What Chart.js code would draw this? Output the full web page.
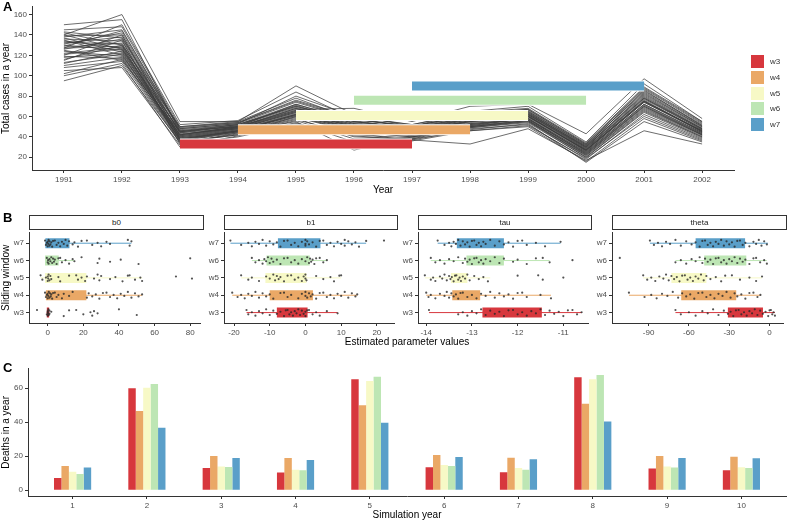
<!DOCTYPE html>
<html>
<head>
<meta charset="utf-8">
<script src="https://cdn.jsdelivr.net/npm/chart.js@4.4.1/dist/chart.umd.min.js"></script>
<style>
body { margin: 0; background: #fff; }
#wrap { position: relative; width: 788px; height: 521px; overflow: hidden; font-family: 'Liberation Sans', Arial, sans-serif; }
canvas { position: absolute; }
.tag { position: absolute; font-weight: bold; font-size: 13px; color: #000; }
.strip { position: absolute; box-sizing: border-box; border: 1px solid #333; background: #fff; font-size: 8px; text-align: center; line-height: 13px; color: #1a1a1a; }
.key { position: absolute; width: 13px; height: 13px; }
.keylab { position: absolute; font-size: 8px; color: #333; }
.txt { position: absolute; font-size: 10px; color: #000; white-space: nowrap; }
</style>
</head>
<body>
<div id="wrap">
  <canvas id="chartA" width="788" height="196" style="left:0px;top:0px"></canvas>
  <canvas id="chartB0" width="204" height="120" style="left:0px;top:226px"></canvas>
  <canvas id="chartB1" width="196" height="120" style="left:202px;top:226px"></canvas>
  <canvas id="chartB2" width="196" height="120" style="left:396px;top:226px"></canvas>
  <canvas id="chartB3" width="197" height="120" style="left:590px;top:226px"></canvas>
  <canvas id="chartC" width="788" height="159" style="left:0px;top:362px"></canvas>
  <div class="tag" style="left:3px;top:-1px">A</div>
  <div class="tag" style="left:3px;top:210px">B</div>
  <div class="tag" style="left:3px;top:360px">C</div>
  <div id="strips"></div>
  <div id="legend"></div>
  <div class="txt" style="left:407px;top:336px;transform:translateX(-50%)">Estimated parameter values</div>
</div>
<script>
// panel A: simulated yearly cases (one row per trajectory)
const YEARS = [1991, 1992, 1993, 1994, 1995, 1996, 1997, 1998, 1999, 2000, 2001, 2002]
const A_YTICKS = [20, 40, 60, 80, 100, 120, 140, 160]
const CASES = [
  [150, 155, 45, 50, 72, 55, 48, 58, 62, 30, 80, 48],
  [95, 110, 35, 42, 60, 45, 40, 50, 55, 20, 65, 40],
  [140, 160, 55, 55, 90, 62, 50, 65, 70, 35, 92, 55],
  [130, 125, 40, 48, 65, 50, 44, 55, 60, 27, 75, 45],
  [120, 140, 38, 46, 62, 48, 42, 52, 58, 25, 72, 44],
  [135, 120, 42, 50, 68, 52, 46, 57, 62, 28, 78, 47],
  [115, 135, 33, 44, 58, 40, 38, 50, 56, 22, 68, 42],
  [125, 115, 45, 52, 70, 55, 48, 60, 64, 30, 82, 50],
  [142, 130, 50, 54, 75, 58, 50, 62, 66, 32, 85, 52],
  [110, 118, 36, 45, 55, 27, 40, 48, 52, 18, 62, 38],
  [105, 108, 32, 40, 52, 44, 36, 46, 50, 16, 58, 36],
  [138, 145, 48, 53, 80, 60, 52, 63, 67, 33, 88, 54],
  [128, 132, 41, 49, 66, 51, 45, 54, 59, 26, 74, 46],
  [122, 128, 39, 47, 63, 49, 43, 53, 57, 24, 71, 43],
  [132, 138, 44, 51, 69, 53, 47, 58, 63, 29, 79, 48],
  [118, 122, 37, 46, 61, 47, 41, 51, 58, 23, 70, 42],
  [140, 126, 46, 50, 67, 68, 55, 70, 72, 43, 97, 58],
  [100, 112, 30, 41, 54, 35, 37, 47, 53, 15, 55, 35],
  [127, 150, 52, 56, 84, 58, 49, 61, 65, 31, 86, 51],
  [136, 134, 43, 48, 64, 50, 44, 56, 60, 27, 76, 45],
  [112, 124, 38, 45, 60, 46, 42, 50, 56, 21, 66, 40],
  [131, 142, 47, 52, 72, 56, 48, 59, 64, 30, 83, 50],
  [124, 119, 40, 47, 62, 48, 43, 53, 58, 25, 72, 44],
  [145, 148, 50, 55, 78, 57, 50, 62, 67, 33, 87, 53],
  [116, 130, 36, 44, 57, 42, 39, 49, 54, 20, 64, 39],
  [134, 127, 42, 50, 66, 52, 46, 57, 61, 28, 77, 47],
  [126, 136, 44, 49, 68, 54, 47, 55, 60, 27, 75, 46],
  [108, 114, 34, 43, 56, 38, 38, 46, 51, 19, 60, 37],
  [139, 140, 46, 52, 70, 55, 49, 59, 63, 31, 81, 49],
  [121, 126, 39, 46, 62, 49, 44, 52, 57, 24, 70, 43],
  [133, 131, 45, 51, 71, 53, 46, 58, 62, 29, 78, 48],
  [113, 121, 37, 45, 59, 45, 40, 49, 55, 22, 67, 41],
  [129, 144, 48, 53, 74, 57, 51, 60, 65, 32, 84, 51],
  [137, 123, 41, 48, 64, 50, 45, 56, 61, 26, 74, 45],
  [119, 117, 38, 46, 61, 47, 42, 51, 56, 23, 69, 42],
  [143, 137, 49, 54, 76, 59, 52, 64, 68, 34, 89, 55],
  [102, 116, 35, 42, 53, 41, 37, 33, 48, 17, 46, 33],
  [127, 129, 42, 49, 65, 51, 45, 55, 60, 27, 75, 46]
]

// sliding windows
const WINDOWS = ['w3', 'w4', 'w5', 'w6', 'w7']
const WIN_COLORS = ['#d7373d', '#eaa866', '#f7f9c6', '#bde6b4', '#5a9fc9']
const WIN_START = [1993, 1994, 1995, 1996, 1997]
const WIN_END = [1997, 1998, 1999, 2000, 2001]
const WIN_LEVEL = [33, 47, 61, 76, 90]

// panel B: parameter estimates, rows w3..w7
const PARAMS = ['b0', 'b1', 'tau', 'theta']
const B_XTICKS = [[0, 20, 40, 60, 80], [-20, -10, 0, 10, 20], [-14, -13, -12, -11], [-90, -60, -30, 0]]
const B_YTICKS = [1, 2, 3, 4, 5]
const BOX_Q1 = [[-0.5, -1, -1.5, -1.5, -1.3], [-8, -10, -11.2, -10.9, -7.7], [-12.77, -13.43, -13.46, -13.12, -13.33], [-31, -65.7, -73, -48.6, -55]]
const BOX_Q3 = [[0.8, 21.7, 21.7, 6.2, 12.2], [0.6, 2.1, 0.3, 1.2, 4.2], [-11.47, -12.82, -13.1, -12.3, -12.3], [-4.9, -24.8, -47, -17.3, -18.2]]
const WHISK_LO = [[-0.6, -1.5, -4, -0.5, -1.5], [-16.5, -20.5, -18, -15, -21], [-13.94, -14, -14.03, -13.9, -13.75], [-70, -104.6, -94, -70, -89]]
const WHISK_HI = [[1, 53, 53, 15, 47], [9, 14.5, 10, 6, 17], [-10.6, -11.27, -12.6, -11.3, -11.06], [4, -6.8, -5.6, -2, -1.2]]

const PTS_B0 = [
  [-6, -0.5, 0, 0, 0, 0.2, 0.4, 0.6, 1, 1, 2, 9, 12, 16, 20, 24, 25, 26, 28, 40, 50],
  [-1.5, -1, -0.5, 0, 0, 0.3, 0.6, 1, 1.3, 1.7, 2, 2.5, 3, 4, 5, 6, 8, 9, 12, 14, 22, 23, 25, 27, 29, 31, 33, 35, 37, 39, 41, 43, 45, 47, 49, 51, 53],
  [-4, -3, -1, 0, 0, 0.3, 0.5, 1, 1.5, 2, 6, 7, 12, 16, 17, 19, 21, 22, 26, 28, 29, 30, 35, 38, 42, 45, 46, 49, 52, 53, 72, 81],
  [-0.5, 0, 0.2, 0.5, 1, 1.5, 2, 2.5, 3, 3.5, 4, 5, 6, 7, 8, 10, 12, 14, 15, 19, 28, 29, 35, 41, 51, 80],
  [-1.5, -1, -0.5, 0, 0, 0.3, 0.5, 1, 1, 1.5, 2, 2.5, 3, 4, 5, 6, 7, 8, 9, 10, 11, 12, 14, 15, 17, 19, 22, 25, 28, 30, 33, 35, 45, 46, 47]
]
const PTS_B1 = [
  [-16.5, -16, -15, -14, -13, -12, -11, -10, -9, -8, -7, -6, -5.5, -5, -4.5, -4, -3.5, -3, -2.5, -2, -1.5, -1, -0.5, 0, 0, 0.5, 1, 2, 3, 4, 6, 9],
  [-20.5, -19, -18, -17, -16, -15, -14, -13, -12, -11, -10, -9, -7, -6, -5, -4, -2, -1, 0, 0, 0.5, 1, 1.5, 2, 3, 4, 5, 6, 7, 8, 9, 10, 11, 12, 13, 14, 14.5],
  [-18, -16, -15, -13, -11, -10, -9, -8.5, -8, -7.5, -7, -6, -5, -4, -3, -2, -1, -0.5, 0, 0, 0.3, 3, 5, 7, 8, 9.5, 10],
  [-15, -14, -13, -12, -11.5, -11, -10.5, -10, -9.5, -9, -8, -7, -6, -5, -4, -3, -2, -1, 0, 0.5, 1, 1.3, 1.6, 2, 2.5, 3, 4, 5, 6],
  [-21, -18, -16, -15, -14, -13, -12, -11, -10, -9, -8, -7, -6, -5, -4, -3, -2, -1, 0, 0, 0, 0.5, 1, 2, 3, 4, 5, 6, 7, 8, 9, 10, 11, 11, 12, 13, 14, 15, 17, 22]
]
const PTS_TAU = [
  [-13.94, -13.3, -13.2, -13.1, -13, -12.9, -12.8, -12.7, -12.6, -12.5, -12.4, -12.3, -12.2, -12.1, -12, -11.9, -11.8, -11.7, -11.6, -11.5, -11.4, -11.3, -11.2, -11.1, -11, -10.9, -10.8, -10.7, -10.6],
  [-14, -13.95, -13.9, -13.8, -13.7, -13.6, -13.55, -13.5, -13.45, -13.4, -13.35, -13.3, -13.25, -13.2, -13.1, -13, -12.9, -12.8, -12.7, -12.6, -12.5, -12.4, -12.3, -12.2, -12.1, -12, -11.9, -11.8, -11.5, -11.27],
  [-14.03, -13.9, -13.85, -13.8, -13.7, -13.65, -13.6, -13.55, -13.5, -13.47, -13.44, -13.4, -13.37, -13.34, -13.3, -13.27, -13.24, -13.2, -13.15, -13.1, -13.05, -12.95, -12.85, -12.75, -12.65, -12, -11.55, -11.45, -11],
  [-13.9, -13.8, -13.7, -13.6, -13.5, -13.4, -13.3, -13.2, -13.15, -13.1, -13.05, -13, -12.95, -12.9, -12.85, -12.8, -12.75, -12.7, -12.6, -12.5, -12.4, -12.3, -12.1, -12, -11.8, -11.6, -11.45, -11.3, -10.8],
  [-13.75, -13.6, -13.5, -13.45, -13.4, -13.35, -13.3, -13.25, -13.2, -13.15, -13.1, -13.05, -13, -12.95, -12.9, -12.85, -12.8, -12.75, -12.7, -12.6, -12.5, -12.4, -12.3, -12.2, -12.1, -12, -11.9, -11.8, -11.6, -11.4, -11.06]
]
const PTS_THETA = [
  [-70, -66, -60, -55, -50, -46, -42, -38, -34, -31, -29, -27, -25, -23, -21, -19, -17, -15, -13, -11, -9, -7, -5, -3, -1, 0, 1, 2, 3, 4],
  [-104.6, -93, -88, -84, -80, -76, -72, -68, -65, -62, -59, -56, -53, -50, -47, -44, -41, -38, -35, -32, -29, -26, -24, -21, -18, -15, -12, -9, -6.8],
  [-94, -91, -88, -85, -82, -79, -77, -75, -73, -71, -69, -67, -65, -63, -61, -59, -57, -55, -53, -51, -49, -47, -44, -40, -36, -33, -28, -22, -15, -10, -5.6],
  [-111.4, -70, -66, -62, -58, -55, -52, -50, -48, -46, -44, -42, -40, -38, -36, -34, -32, -30, -28, -26, -24, -22, -20, -18, -15, -12, -10, -7, -4, -2],
  [-89, -86, -83, -80, -77, -74, -70, -66, -62, -58, -55, -52, -50, -48, -46, -44, -42, -40, -38, -36, -34, -32, -30, -28, -26, -24, -22, -20, -18, -15, -12, -10, -8, -6, -4, -2]
]
const POINTS = [PTS_B0, PTS_B1, PTS_TAU, PTS_THETA]
// fixed vertical jitter pattern for the points
const JITTER = [0.15, -0.1, 0.02, -0.18, 0.08, -0.04, 0.19, -0.14, 0.11, -0.07, 0.05, -0.2, 0.13]

// panel C: deaths per simulation year
const SIM_YEARS = [1, 2, 3, 4, 5, 6, 7, 8, 9, 10]
const C_YTICKS = [0, 20, 40, 60]
const DEATHS_W3 = [7.2, 60, 13, 10.4, 65.2, 13.5, 10.6, 66.5, 12.8, 11.8]
const DEATHS_W4 = [14.3, 46.6, 20.1, 19, 49.9, 20.7, 19.1, 50.8, 20.1, 19.7]
const DEATHS_W5 = [10.8, 60.3, 14, 12, 64.2, 14.9, 13, 65.2, 13.9, 13.5]
const DEATHS_W6 = [9.5, 62.4, 13.7, 11.8, 66.7, 14.3, 12, 67.8, 13.3, 13]
const DEATHS_W7 = [13.3, 36.7, 19, 17.8, 39.7, 19.5, 18.2, 40.4, 19, 18.8]
const DEATHS = [DEATHS_W3, DEATHS_W4, DEATHS_W5, DEATHS_W6, DEATHS_W7]

Chart.defaults.font.family = "'Liberation Sans', Arial, sans-serif"
Chart.defaults.animation = false
Chart.defaults.responsive = false
Chart.defaults.devicePixelRatio = 1
Chart.defaults.plugins.legend.display = false
Chart.defaults.plugins.tooltip.enabled = false

const tickFont = { size: 8 }
const tickColor = '#4d4d4d'

function axisStyle(tickValues) {
  return {
    grid: { drawOnChartArea: false, drawTicks: true, tickLength: 3, color: '#333', offset: false },
    border: { display: true, color: '#333', width: 1 },
    afterBuildTicks: function (s) { s.ticks = tickValues.map(function (v) { return { value: v } }) }
  }
}

// ---------- panel A ----------
var dsA = []
CASES.forEach(function (row) {
  dsA.push({
    data: row.map(function (v, i) { return { x: YEARS[i], y: v } }),
    borderColor: 'rgba(60,60,60,0.75)', borderWidth: 1, pointRadius: 0, showLine: true, order: 3
  })
})
WINDOWS.forEach(function (w, k) {
  var seg = [{ x: WIN_START[k], y: WIN_LEVEL[k] }, { x: WIN_END[k], y: WIN_LEVEL[k] }]
  dsA.push({ data: seg, borderColor: '#fff', borderWidth: 11, borderCapStyle: 'butt', pointRadius: 0, showLine: true, order: 2 })
  dsA.push({ data: seg, borderColor: WIN_COLORS[k], borderWidth: 9, borderCapStyle: 'butt', pointRadius: 0, showLine: true, order: 1 })
})

new Chart('chartA', {
  type: 'scatter',
  data: { datasets: dsA },
  options: {
    layout: { padding: { left: 0, top: 2, right: 54, bottom: 0 } },
    scales: {
      x: Object.assign(axisStyle(YEARS), {
        type: 'linear', min: 1990.45, max: 2002.55,
        afterFit: function (s) { s.height = 26 },
        ticks: { color: tickColor, font: tickFont, padding: 2, maxRotation: 0, autoSkip: false, callback: function (v) { return String(v) } },
        title: { display: true, text: 'Year', color: '#000', font: { size: 10 }, padding: { top: 0, bottom: 0 } }
      }),
      y: Object.assign(axisStyle(A_YTICKS), {
        type: 'linear', min: 7.5, max: 167.6,
        afterFit: function (s) { s.width = 32 },
        ticks: { color: tickColor, font: tickFont, padding: 2 },
        title: { display: true, text: 'Total cases in a year', color: '#000', font: { size: 10 }, padding: { top: 0, bottom: 0 } }
      })
    }
  }
})

// legend for windows
var leg = document.getElementById('legend')
WINDOWS.forEach(function (w, k) {
  var top = 55 + k * 15.8
  leg.innerHTML += '<div class="key" style="left:751px;top:' + top + 'px;background:' + WIN_COLORS[k] + '"></div>' +
    '<div class="keylab" style="left:770px;top:' + (top + 2) + 'px">' + w + '</div>'
})

// ---------- panel B ----------
var FACET_MIN = [-10.5, -22.8, -14.18, -117.2]
var FACET_MAX = [85.5, 24.8, -10.46, 10]
var FACET_LEFT = [29, 224, 418, 612]
var FACET_RIGHT = [203, 397, 591, 786]

var strips = document.getElementById('strips')
PARAMS.forEach(function (p, f) {
  strips.innerHTML += '<div class="strip" style="left:' + FACET_LEFT[f] + 'px;top:215px;width:' + (FACET_RIGHT[f] - FACET_LEFT[f] + 1) + 'px;height:15px">' + p + '</div>'

  var ds = []
  WINDOWS.forEach(function (w, k) {
    var yy = k + 1
    ds.push({ data: [{ x: WHISK_LO[f][k], y: yy }, { x: WHISK_HI[f][k], y: yy }], borderColor: WIN_COLORS[k], borderWidth: 1, pointRadius: 0, showLine: true, order: 3 })
    ds.push({ data: [{ x: BOX_Q1[f][k], y: yy }, { x: BOX_Q3[f][k], y: yy }], borderColor: WIN_COLORS[k], borderWidth: 10, borderCapStyle: 'butt', pointRadius: 0, showLine: true, order: 2 })
    ds.push({
      data: POINTS[f][k].map(function (v, i) { return { x: v, y: yy + JITTER[i % JITTER.length] } }),
      pointRadius: 1.1, backgroundColor: 'rgba(40,40,40,0.8)', borderWidth: 0, order: 1
    })
  })

  var yw = f === 0 ? 29 : 22
  new Chart('chartB' + f, {
    type: 'scatter',
    data: { datasets: ds },
    options: {
      layout: { padding: { left: 0, top: 4, right: 1, bottom: 0 } },
      scales: {
        x: Object.assign(axisStyle(B_XTICKS[f]), {
          type: 'linear', min: FACET_MIN[f], max: FACET_MAX[f],
          afterFit: function (s) { s.height = 23 },
          ticks: { color: tickColor, font: tickFont, padding: 2, maxRotation: 0, autoSkip: false }
        }),
        y: Object.assign(axisStyle(B_YTICKS), {
          type: 'linear', min: 0.4, max: 5.6,
          afterFit: function (s) { s.width = yw },
          ticks: { color: tickColor, font: tickFont, padding: 2, callback: function (v) { return WINDOWS[v - 1] } },
          title: { display: f === 0, text: 'Sliding window', color: '#000', font: { size: 10 }, padding: { top: 0, bottom: 0 } }
        })
      }
    }
  })
})

// ---------- panel C ----------
new Chart('chartC', {
  type: 'bar',
  data: {
    datasets: DEATHS.map(function (arr, k) {
      return {
        label: WINDOWS[k],
        data: arr.map(function (v, i) { return { x: SIM_YEARS[i], y: v } }),
        backgroundColor: WIN_COLORS[k], borderWidth: 0,
        categoryPercentage: 0.5, barPercentage: 1
      }
    })
  },
  options: {
    layout: { padding: { left: 0, top: 6, right: 2, bottom: 0 } },
    scales: {
      x: Object.assign(axisStyle(SIM_YEARS), {
        type: 'linear', min: 0.4, max: 10.6, offset: false,
        afterFit: function (s) { s.height = 25 },
        ticks: { color: tickColor, font: tickFont, padding: 2, maxRotation: 0, autoSkip: false },
        title: { display: true, text: 'Simulation year', color: '#000', font: { size: 10 }, padding: { top: 0, bottom: 0 } }
      }),
      y: Object.assign(axisStyle(C_YTICKS), {
        type: 'linear', min: -3.4, max: 71.4,
        afterFit: function (s) { s.width = 28 },
        ticks: { color: tickColor, font: tickFont, padding: 2 },
        title: { display: true, text: 'Deaths in a year', color: '#000', font: { size: 10 }, padding: { top: 0, bottom: 0 } }
      })
    }
  }
})
</script>
</body>
</html>
